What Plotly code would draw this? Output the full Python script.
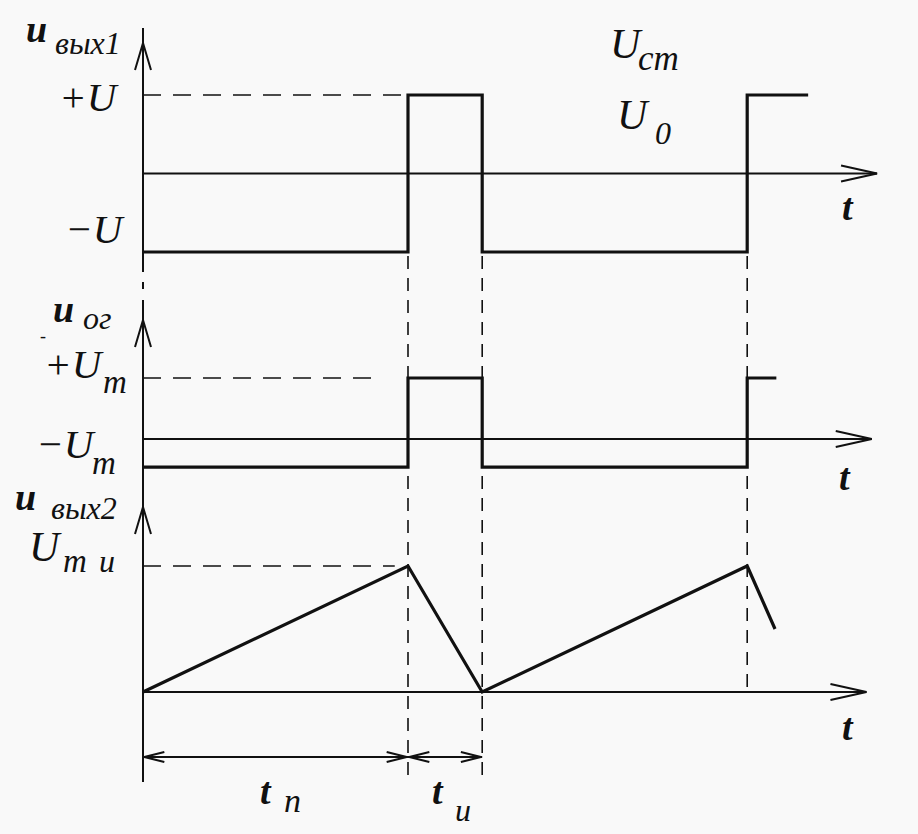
import plotly.graph_objects as go

# ---------------- data (time in arbitrary units, t_p = 10, t_i = 2.8) ----------------
t_p = 10.0
t_i = 2.8
t_events = [0.0, 10.0, 12.8, 22.8]

# panel 1: u_вых1 (levels +U / -U)
t1 = [0.0, 10.0, 10.0, 12.8, 12.8, 22.8, 22.8, 25.1]
u1 = [-1.0, -1.0, 1.0, 1.0, -1.0, -1.0, 1.0, 1.0]
# panel 2: u_ог (levels +U_m / -U_m)
t2 = [0.0, 10.0, 10.0, 12.8, 12.8, 22.8, 22.8, 23.9]
u2 = [-0.46, -0.46, 1.0, 1.0, -0.46, -0.46, 1.0, 1.0]
# panel 3: u_вых2 (saw-tooth, peak U_mи)
t3 = [0.0, 10.0, 12.8, 22.8, 23.85]
u3 = [0.0, 1.0, 0.0, 1.0, 0.5]

t_axis_end = [27.7, 27.5, 27.3]
level_hi = [1.0, 1.0, 1.0]
guide_end = [10.0, 8.75, 9.5]

# ---------------- layout geometry ----------------
W, H = 918, 834
X0, XS = 143.0, 26.5           # pixel of t=0, pixels per time unit
Z = [173.5, 439.0, 692.0]      # pixel row of zero level per panel
S = [78.5, 61.0, 126.0]        # pixels per unit per panel
YAX = ["y", "y2", "y3"]

def t_of(px):
    return (px - X0) / XS

def px_of(t):
    return X0 + XS * t

def v_of(k, py):
    return (Z[k] - py) / S[k]

def py_of(k, v):
    return Z[k] - S[k] * v

INK = "#111111"
fig = go.Figure()

def seg(k, xs, ys, width=2.0, dash=None):
    fig.add_trace(go.Scatter(x=xs, y=ys, yaxis=YAX[k], mode="lines",
                             line=dict(color=INK, width=width, dash=dash),
                             hoverinfo="skip", showlegend=False))

def chevron(k, tip_t, tip_v, dx_px, dy_px, length, half):
    # open arrow head; (dx_px, dy_px) unit direction of arrow in pixel space
    tx, ty = px_of(tip_t), py_of(k, tip_v)
    bx, by = tx - dx_px * length, ty - dy_px * length
    nx, ny = -dy_px, dx_px
    xs = [t_of(bx + nx * half), t_of(tx), t_of(bx - nx * half)]
    ys = [v_of(k, by + ny * half), v_of(k, ty), v_of(k, by - ny * half)]
    seg(k, xs, ys, width=2.0)

# horizontal time axes with arrows
for k in range(3):
    seg(k, [0, t_axis_end[k]], [0, 0], width=2.0)
    chevron(k, t_axis_end[k], 0, 1, 0, 36, 8)

# vertical axis (drawn on panel 3 coordinates)
seg(2, [0, 0], [v_of(2, 28), v_of(2, 272)], width=2.0)
seg(2, [0, 0], [v_of(2, 282), v_of(2, 289)], width=2.0)
seg(2, [0, 0], [v_of(2, 300), v_of(2, 782)], width=2.0)
for tip in [43, 320, 507]:
    chevron(2, 0, v_of(2, tip), 0, -1, 27, 8)

# dashed horizontal guides to the high levels
for k in range(3):
    seg(k, [0, guide_end[k]], [level_hi[k], level_hi[k]], width=1.6, dash="18px,12px")

# dashed vertical guides at switching instants
for t, bottom in [(t_events[1], 778), (t_events[2], 778), (t_events[3], 692)]:
    seg(2, [t, t], [v_of(2, 256), v_of(2, bottom)], width=1.6, dash="13px,9px")

# waveforms
seg(0, t1, u1, width=3.2)
seg(1, t2, u2, width=3.2)
seg(2, t3, u3, width=3.2)

# dimension lines t_п and t_и
dim_v = v_of(2, 757)
for a, b in [(0.0, t_p), (t_p, t_p + t_i)]:
    seg(2, [a, b], [dim_v, dim_v], width=2.0)
    chevron(2, b - 0.05, dim_v, 1, 0, 20, 5)
    chevron(2, a + 0.05, dim_v, -1, 0, 20, 5)

# ---------------- text ----------------
FONT = "Liberation Serif"
def label(px, py, text, size, bold=False):
    s = "<i>%s</i>" % text
    if bold:
        s = "<b>%s</b>" % s
    fig.add_annotation(x=px / W, y=1 - py / H, xref="paper", yref="paper",
                       text=s, showarrow=False, xanchor="center", yanchor="middle",
                       font=dict(family=FONT, size=size, color=INK))

# panel 1
label(36, 29, "u", 38, bold=True)
label(88, 43, "вых1", 32)
label(89, 97, "+U", 41)
label(95, 229, "−U", 41)
label(626, 44, "U", 42)
label(658, 58, "ст", 35)
label(633, 115, "U", 42)
label(663, 133, "0", 32)
label(848, 207, "t", 38, bold=True)
# panel 2
label(63, 309, "u", 38, bold=True)
label(97, 318, "ог", 32)
label(43, 336, "-", 18)
label(74, 364, "+U", 41)
label(115, 382, "m", 33)
label(66, 444, "−U", 41)
label(104, 463, "m", 33)
label(845, 477, "t", 38, bold=True)
# panel 3
label(25, 497, "u", 38, bold=True)
label(84, 508, "вых2", 32)
label(45, 547, "U", 42)
label(75, 561, "m", 33)
label(107, 561, "и", 32)
label(848, 727, "t", 38, bold=True)
# durations
label(266, 791, "t", 38, bold=True)
label(292, 800, "п", 34)
label(438, 791, "t", 38, bold=True)
label(463, 810, "и", 32)

# ---------------- axes ----------------
ax_off = dict(visible=False, showgrid=False, zeroline=False, fixedrange=True)
fig.update_layout(
    width=W, height=H, margin=dict(l=0, r=0, t=0, b=0),
    paper_bgcolor="#f9f9f9", plot_bgcolor="#f9f9f9", showlegend=False,
    xaxis=dict(range=[t_of(0), t_of(W)], **ax_off),
    yaxis=dict(range=[v_of(0, H), v_of(0, 0)], **ax_off),
    yaxis2=dict(range=[v_of(1, H), v_of(1, 0)], overlaying="y", **ax_off),
    yaxis3=dict(range=[v_of(2, H), v_of(2, 0)], overlaying="y", **ax_off),
)

fig.write_html("out.html", config={"displayModeBar": False},
               post_script="document.body.style.margin='0';")
